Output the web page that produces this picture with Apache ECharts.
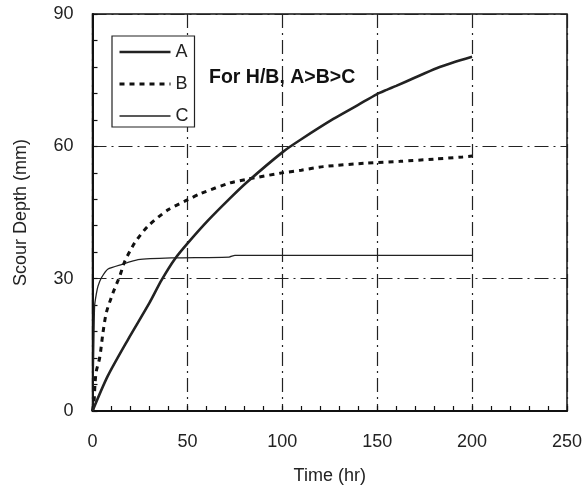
<!DOCTYPE html>
<html><head><meta charset="utf-8">
<script src="https://cdn.jsdelivr.net/npm/echarts@6/dist/echarts.min.js"></script>
<style>html,body{margin:0;padding:0;background:#fff}#c{width:587px;height:490px}</style>
</head><body><div id="c"></div>
<script>
const seriesNames = ['A', 'B', 'C'];
const xTicks = [0, 50, 100, 150, 200, 250];
const yTicks = [0, 30, 60, 90];
const aTime = [0, 8, 18.7, 30, 36.3, 43.3, 50.3, 60.9, 72.4, 81.2, 100.5, 110, 126.9, 140, 149.7, 155, 160, 170, 181.3, 190, 200];
const aDepth = [0, 7.9, 16.2, 24.5, 29.6, 34.4, 38.1, 43.2, 48.2, 51.8, 58.8, 61.6, 66.2, 69.4, 71.8, 72.8, 73.7, 75.6, 77.7, 79, 80.3];
const bTime = [0, 0.8, 1.3, 2, 3.8, 5.5, 7.3, 10.8, 14.3, 17, 22.2, 29.2, 39.8, 50.3, 57, 72.4, 81, 98.8, 110, 121.6, 144.5, 162, 180, 195, 200];
const bDepth = [0, 2, 6, 9, 12.1, 17.7, 22.3, 26.8, 30.5, 33.9, 38.1, 41.9, 45.6, 47.9, 49.3, 51.7, 52.5, 53.9, 54.6, 55.4, 56.2, 56.6, 57.1, 57.6, 57.8];
const cTime = [0, 0.3, 0.7, 1.1, 2, 2.9, 4.7, 8.2, 15.2, 24, 41.5, 72, 75, 100, 150, 200];
const cDepth = [0, 4, 15, 23.8, 26.5, 28.3, 30.2, 32.2, 33.2, 34.3, 34.7, 34.9, 35.3, 35.3, 35.3, 35.3];
const annotation = 'For H/B, A>B>C';

const zip = (xs, ys) => xs.map((x, i) => [x, ys[i]]);
const font = 'Liberation Sans, Arial, Helvetica, sans-serif';
const dashDot = [14, 5, 2, 5];
const lineStyles = [
  {color: '#222', width: 2.6, type: 'solid'},
  {color: '#111', width: 3, type: [5, 5]},
  {color: '#222', width: 1.3, type: 'solid'}
];

const chart = echarts.init(document.getElementById('c'), null, {renderer: 'canvas'});
chart.setOption({
  animation: false,
  backgroundColor: '#fff',
  grid: {left: 92.5, right: 20, top: 14, bottom: 78.3, show: true, borderColor: '#111', borderWidth: 1.5, backgroundColor: 'transparent'},
  xAxis: {
    type: 'value', min: xTicks[0], max: xTicks[xTicks.length - 1], interval: 50,
    name: 'Time (hr)', nameLocation: 'middle', nameGap: 56,
    nameTextStyle: {fontFamily: font, fontSize: 18, color: '#222'},
    axisLine: {lineStyle: {color: '#111', width: 2}},
    axisTick: {inside: true, length: 5, lineStyle: {color: '#111', width: 1.2}},
    minorTick: {show: true, splitNumber: 5, length: 5, lineStyle: {color: '#111', width: 1.2}},
    axisLabel: {fontFamily: font, fontSize: 18, color: '#222', margin: 22},
    splitLine: {show: true, lineStyle: {color: '#222', width: 1.2, type: dashDot}}
  },
  yAxis: {
    type: 'value', min: yTicks[0], max: yTicks[yTicks.length - 1], interval: 30,
    name: 'Scour Depth (mm)', nameLocation: 'middle', nameGap: 62,
    nameTextStyle: {fontFamily: font, fontSize: 18, color: '#222'},
    axisLine: {show: true, lineStyle: {color: '#111', width: 2}},
    axisTick: {show: true, inside: true, length: 5, lineStyle: {color: '#111', width: 1.2}},
    minorTick: {show: true, splitNumber: 5, length: 5, lineStyle: {color: '#111', width: 1.2}},
    axisLabel: {fontFamily: font, fontSize: 18, color: '#222', margin: 19},
    splitLine: {show: true, lineStyle: {color: '#222', width: 1.2, type: dashDot}}
  },
  legend: {
    orient: 'vertical', left: 112, top: 36,
    data: seriesNames.map((n, i) => ({name: n, lineStyle: {width: lineStyles[i].width, type: lineStyles[i].type, color: lineStyles[i].color}})),
    itemWidth: 51, itemHeight: 14, itemGap: 14,
    padding: [7, 6, 2, 6],
    itemStyle: {opacity: 0, borderWidth: 0},
    borderColor: '#222', borderWidth: 1.2, backgroundColor: '#fff',
    textStyle: {fontFamily: font, fontSize: 18, color: '#222'}
  },
  graphic: [{
    type: 'text', left: 209, top: 68, z: 100,
    style: {text: annotation, fontFamily: font, fontSize: 19.5, fontWeight: 'bold', fill: '#111'}
  }],
  series: [
    {name: seriesNames[0], type: 'line', data: zip(aTime, aDepth), symbol: 'none', smooth: 0.25,
     lineStyle: lineStyles[0], itemStyle: {color: '#222'}, z: 5},
    {name: seriesNames[1], type: 'line', data: zip(bTime, bDepth), symbol: 'none', smooth: 0.25,
     lineStyle: lineStyles[1], itemStyle: {color: '#111'}, z: 4},
    {name: seriesNames[2], type: 'line', data: zip(cTime, cDepth), symbol: 'none', smooth: 0.15,
     lineStyle: lineStyles[2], itemStyle: {color: '#222'}, z: 3}
  ]
});
</script></body></html>
